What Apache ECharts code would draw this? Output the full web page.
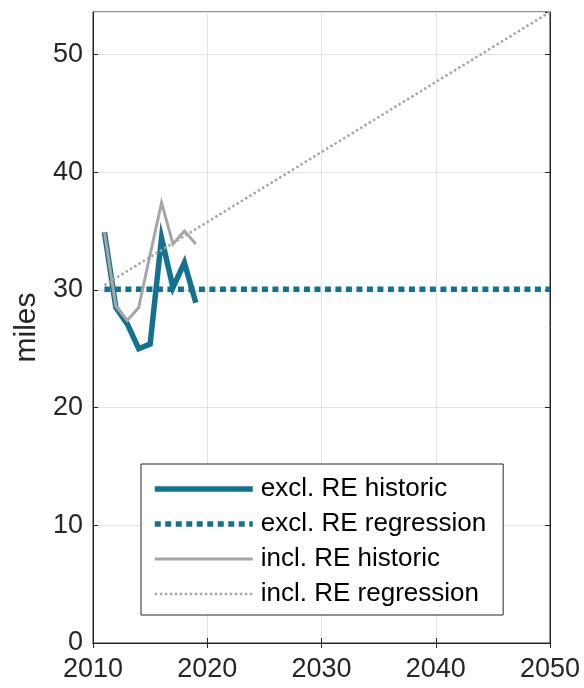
<!DOCTYPE html>
<html>
<head>
<meta charset="utf-8">
<script src="https://cdn.jsdelivr.net/npm/echarts@6/dist/echarts.min.js"></script>
<style>html,body{margin:0;padding:0;background:#fff;}#c{width:584px;height:688px;}</style>
</head>
<body>
<div id="c"></div>
<script>
const years = [2011, 2012, 2013, 2014, 2015, 2016, 2017, 2018, 2019];
const exclHistoric = [34.9, 28.5, 27.1, 25.0, 25.4, 34.4, 30.2, 32.3, 28.9];
const inclHistoric = [34.9, 28.6, 27.4, 28.5, 33.0, 37.4, 33.9, 35.0, 33.9];
const regYears = [2011, 2050];
const exclRegression = [30.05, 30.05];
const inclRegression = [30.4, 53.6];
const xTicks = [2010, 2020, 2030, 2040, 2050];
const yTicks = [0, 10, 20, 30, 40, 50];
const names = ['excl. RE historic', 'excl. RE regression', 'incl. RE historic', 'incl. RE regression'];

const teal = '#12728f';
const grey = '#a6a6a6';
const ink = '#262626';
const font = 'Liberation Sans, Arial, Helvetica, sans-serif';

const styles = [
  {color: teal, width: 5.5, type: 'solid'},
  {color: teal, width: 5.5, type: [6, 4.5]},
  {color: grey, width: 3, type: 'solid'},
  {color: grey, width: 2.5, type: [2.5, 2.5]}
];

function pairs(xs, ys) { return xs.map((x, i) => [x, ys[i]]); }

const chart = echarts.init(document.getElementById('c'), null, {renderer: 'canvas'});
const yMax = 53.6;
const baseAxisLabel = {color: ink, fontSize: 27, fontFamily: font};
chart.setOption({
  animation: false,
  backgroundColor: '#fff',
  grid: {left: 93, right: 34, top: 12, bottom: 45, show: true, borderColor: ink, borderWidth: 1, backgroundColor: 'transparent'},
  xAxis: [{
    type: 'value', min: xTicks[0], max: xTicks[xTicks.length - 1], interval: 10,
    axisLine: {show: true, lineStyle: {color: ink, width: 1}},
    axisTick: {show: true, inside: true, length: 5, lineStyle: {color: ink}},
    axisLabel: Object.assign({}, baseAxisLabel, {margin: 13, formatter: v => xTicks.includes(v) ? String(v) : ''}),
    splitLine: {show: true, lineStyle: {color: '#e3e3e3', width: 1}}
  }, {
    type: 'value', position: 'top', min: xTicks[0], max: xTicks[xTicks.length - 1], interval: 10,
    axisLine: {show: true, lineStyle: {color: ink}},
    axisTick: {show: true, inside: true, length: 5, lineStyle: {color: ink}},
    axisLabel: {show: false}, splitLine: {show: false}
  }],
  yAxis: [{
    type: 'value', min: yTicks[0], max: yMax, interval: 10,
    name: 'miles', nameLocation: 'middle', nameGap: 51,
    nameTextStyle: {color: ink, fontSize: 30, fontFamily: font},
    axisLine: {show: true, lineStyle: {color: ink, width: 1}},
    axisTick: {show: true, inside: true, length: 5, lineStyle: {color: ink}},
    axisLabel: Object.assign({}, baseAxisLabel, {margin: 10, showMaxLabel: false, formatter: v => yTicks.includes(v) ? String(v) : ''}),
    splitLine: {show: true, lineStyle: {color: '#e3e3e3', width: 1}}
  }, {
    type: 'value', position: 'right', min: yTicks[0], max: yMax, interval: 10,
    axisLine: {show: true, lineStyle: {color: ink}},
    axisTick: {show: true, inside: true, length: 5, lineStyle: {color: ink}},
    axisLabel: {show: false}, splitLine: {show: false}
  }],
  legend: {
    orient: 'vertical', left: 141, top: 464,
    data: names.map((n, i) => ({name: n, itemStyle: {opacity: 0}, lineStyle: styles[i]})),
    backgroundColor: '#fff', borderColor: ink, borderWidth: 1,
    padding: [10, 17, 6, 11],
    itemWidth: 98, itemHeight: 14, itemGap: 5,
    textStyle: {color: '#000', fontSize: 26, fontFamily: font, lineHeight: 30, padding: [0, 0, 0, 3]}
  },
  series: names.map((n, i) => ({
    name: n, type: 'line', symbol: 'none', z: 2 + i,
    data: i === 0 ? pairs(years, exclHistoric) : i === 1 ? pairs(regYears, exclRegression) : i === 2 ? pairs(years, inclHistoric) : pairs(regYears, inclRegression),
    lineStyle: Object.assign({cap: 'butt', join: 'miter'}, styles[i]),
    itemStyle: {color: styles[i].color}
  }))
});
</script>
</body>
</html>
